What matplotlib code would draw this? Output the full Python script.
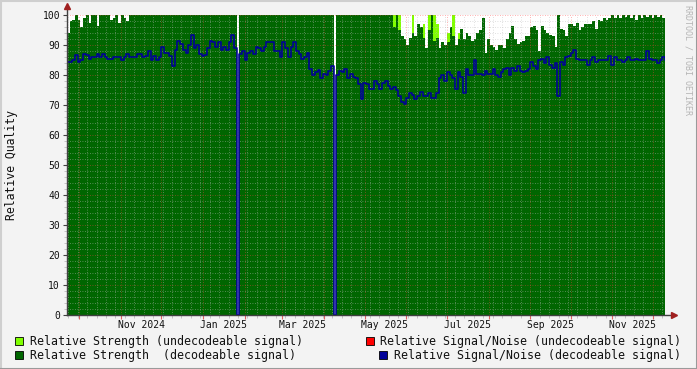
import numpy as np
import pandas as pd
import matplotlib
matplotlib.use("Agg")
import matplotlib.pyplot as plt
import matplotlib.dates as mdates
from matplotlib.patches import Rectangle
from matplotlib.lines import Line2D

# one sample every 2 days, starting here
start = "2024-09-22"

# Relative Signal/Noise (decodeable signal)
snr_dec = [
    84.5, 84.5, 85, 86.7, 84.5, 85, 87, 86.7, 85.5, 86,
    86, 87, 86, 87, 86, 85.5, 85.3, 86, 86, 86,
    85, 86, 87, 86, 86, 86, 87, 87, 86, 86.5,
    88, 85, 86.5, 85, 86, 89.5, 87.5, 87.5, 86.5, 83,
    88.5, 91.5, 90.5, 88.5, 87.5, 90, 93.5, 89, 90, 87,
    86.5, 86.7, 89, 91.5, 91, 89.5, 91, 88.5, 89.5, 88.5,
    91, 93.5, 89, 0, 87, 88, 85, 87.5, 88, 87,
    89.5, 89, 88, 89.5, 91, 91, 91, 88, 88, 86,
    91, 89, 86, 89.5, 91, 88, 87, 85.5, 86, 87.5,
    82, 80, 81, 81.7, 79, 80.5, 80, 81.5, 83, 0,
    80, 81.5, 81, 82, 79, 80.5, 79.5, 79, 77, 72,
    77.5, 77, 75.5, 75.5, 78, 77, 75.5, 77.5, 78, 76.5,
    75.5, 76, 75, 73, 71, 70.5, 72.5, 74, 73.5, 72,
    73, 74.5, 73, 73, 74, 72.5, 72.5, 74, 79, 80,
    78, 81, 80, 79, 75.5, 81, 79.5, 74, 82, 80,
    80, 85, 80.5, 80.5, 80, 81.5, 80.5, 80.5, 82, 80,
    79.5, 81, 82, 82.5, 80, 82.5, 81.5, 83, 81.5, 81,
    81.5, 82, 84.5, 83, 82, 85, 85.5, 84, 86, 83.5,
    82.5, 84, 73, 84.5, 83.5, 86, 86.5, 87.5, 88.5, 85.5,
    85, 85, 85, 83.5, 85, 86, 84.5, 85, 85, 85,
    85, 86.5, 83.5, 86, 85, 85, 84.5, 85, 86, 85,
    85, 85.5, 85, 85, 85, 88, 85.5, 85, 85, 84,
    85, 86, 85,
]

# Relative Strength (decodeable signal)
strength_dec = [
    94, 98, 98.5, 100, 98.5, 96, 99, 100, 97.5, 100,
    100, 96.5, 100, 100, 100, 100, 98.5, 99, 100, 97.5,
    100, 99, 98, 100, 100, 100, 100, 100, 100, 100,
    100, 100, 100, 100, 100, 100, 100, 100, 100, 100,
    100, 100, 100, 100, 100, 100, 100, 100, 100, 100,
    100, 100, 100, 100, 100, 100, 100, 100, 100, 100,
    100, 100, 100, 0, 100, 100, 100, 100, 100, 100,
    100, 100, 100, 100, 100, 100, 100, 100, 100, 100,
    100, 100, 100, 100, 100, 100, 100, 100, 100, 100,
    100, 100, 100, 100, 100, 100, 100, 100, 100, 0,
    100, 100, 100, 100, 100, 100, 100, 100, 100, 100,
    100, 100, 100, 100, 100, 100, 100, 100, 100, 100,
    100, 96, 100, 95, 93, 92, 90, 92.5, 94, 93,
    97, 96, 92.5, 89, 95, 100, 91.5, 92.5, 89, 91,
    90, 91, 96, 93, 90, 92, 95.5, 92, 94, 93,
    91.5, 92, 94, 95, 99, 87.5, 92, 90, 89.5, 88.5,
    90, 90, 89, 92, 94, 96.5, 92, 90.5, 91, 91.5,
    93, 93, 96, 96.5, 95, 88, 96.5, 95, 94, 93.5,
    93, 89.5, 100, 95.5, 95, 93, 97, 97, 96.5, 97.5,
    95, 96, 97, 97, 97, 98, 95.5, 98.5, 98, 99,
    98.5, 99, 100, 99, 100, 99, 100, 99.5, 100, 99,
    100, 98.5, 100, 99, 100, 99.5, 100, 99, 100, 99.5,
    100, 99, 100,
]

# Relative Strength (undecodeable signal): only non-zero samples
undec_idx = [121, 123, 128, 132, 134, 136, 137, 141, 143, 145]
undec_val = [100, 100, 100, 97, 100, 100, 97, 94, 100, 94]

label_dates = ["2024-11-16", "2025-01-16", "2025-03-16", "2025-05-16",
               "2025-07-16", "2025-09-16", "2025-11-16"]
month_labels = ["Nov 2024", "Jan 2025", "Mar 2025", "May 2025",
                "Jul 2025", "Sep 2025", "Nov 2025"]

dates = pd.date_range(start, periods=len(snr_dec), freq="2D")
strength_undec = np.zeros(len(dates))
strength_undec[undec_idx] = undec_val

plt.rcParams["font.family"] = "DejaVu Sans Mono"

W, H = 697, 369
fig = plt.figure(figsize=(W / 100, H / 100), dpi=100, facecolor="#F3F3F3")
ax = fig.add_axes([67 / W, (H - 315) / H, 598 / W, 300 / H])
ax.set_facecolor("white")

ax.fill_between(dates, strength_undec, step="post", color="#80FF00", lw=0)
ax.fill_between(dates, strength_dec, step="post", color="#006600", lw=0)
ax.plot(dates, snr_dec, drawstyle="steps-post", color="#000099", lw=1.15, zorder=3)

ax.set_xlim(dates[0], dates[-1])
ax.set_ylim(0, 100)

# grid
ax.set_axisbelow(False)
ax.xaxis.set_major_locator(mdates.MonthLocator())
ax.xaxis.set_minor_locator(mdates.WeekdayLocator(byweekday=mdates.MO))
ax.xaxis.set_major_formatter(plt.NullFormatter())
ax.set_yticks(range(0, 101, 10))
ax.set_yticks(range(0, 101, 2), minor=True)
ax.grid(which="minor", color="#BBBBBB", ls=(0, (1, 2)), lw=0.6, alpha=0.6)
ax.grid(which="major", color="#FF4040", ls=(0, (1, 2)), lw=0.6, alpha=0.55)

ax.tick_params(axis="x", which="major", direction="out", length=3, color="#E06060")
ax.tick_params(axis="x", which="minor", direction="out", length=2, color="#BBBBBB")
ax.tick_params(axis="y", which="major", direction="out", length=3, color="#404040",
               labelsize=7, pad=2, labelcolor="#111111")
ax.tick_params(axis="y", which="minor", direction="out", length=2, color="#BBBBBB")

sec = ax.secondary_xaxis("bottom")
sec.set_xticks(mdates.date2num(pd.to_datetime(label_dates)), month_labels)
sec.tick_params(length=0, pad=3.5, labelsize=7, labelcolor="#111111")
sec.spines["bottom"].set_visible(False)

for s in ax.spines.values():
    s.set_visible(False)

# axes with arrows
ax.plot([0, 0], [0, 1.02], transform=ax.transAxes, color="#404040", lw=1,
        clip_on=False, zorder=5)
ax.plot([0, 1.012], [0, 0], transform=ax.transAxes, color="#404040", lw=1,
        clip_on=False, zorder=5)
ax.plot(0, 1.03, marker="^", color="#A02020", ms=4, transform=ax.transAxes,
        clip_on=False, zorder=6)
ax.plot(1.015, 0, marker=">", color="#A02020", ms=4, transform=ax.transAxes,
        clip_on=False, zorder=6)

fig.text(12 / W, 1 - 165 / H, "Relative Quality", rotation=90, ha="center",
         va="center", size=8.3, color="#111111")
fig.text(688 / W, 1 - 5 / H, "RRDTOOL / TOBI OETIKER", rotation=270,
         ha="center", va="top", size=6, color="#B5B5B5")

# legend
legend = [
    ("Relative Strength (undecodeable signal)", "#80FF00", 15, 30, 341, "left"),
    ("Relative Strength  (decodeable signal)", "#006600", 15, 30, 355, "left"),
    ("Relative Signal/Noise (undecodeable signal)", "#FF0000", 366, 681, 341, "right"),
    ("Relative Signal/Noise (decodeable signal)", "#000099", 379, 681, 355, "right"),
]
for text, col, sx, tx, y, ha in legend:
    fig.add_artist(Rectangle((sx / W, 1 - (y + 4) / H), 8 / W, 8 / H,
                             transform=fig.transFigure, facecolor=col,
                             edgecolor="black", lw=0.6))
    fig.text(tx / W, 1 - y / H, text, ha=ha, va="center", size=8.4, color="#111111")

# frame
fig.add_artist(Line2D([0, 1], [1 - 0.5 / H] * 2, transform=fig.transFigure, color="#CFCFCF", lw=1.5))
fig.add_artist(Line2D([0.5 / W] * 2, [0, 1], transform=fig.transFigure, color="#CFCFCF", lw=1.5))
fig.add_artist(Line2D([0, 1], [0.5 / H] * 2, transform=fig.transFigure, color="#9A9A9A", lw=1.5))
fig.add_artist(Line2D([1 - 0.5 / W] * 2, [0, 1], transform=fig.transFigure, color="#9A9A9A", lw=1.5))

fig.savefig("out.png", dpi=100, facecolor=fig.get_facecolor())
